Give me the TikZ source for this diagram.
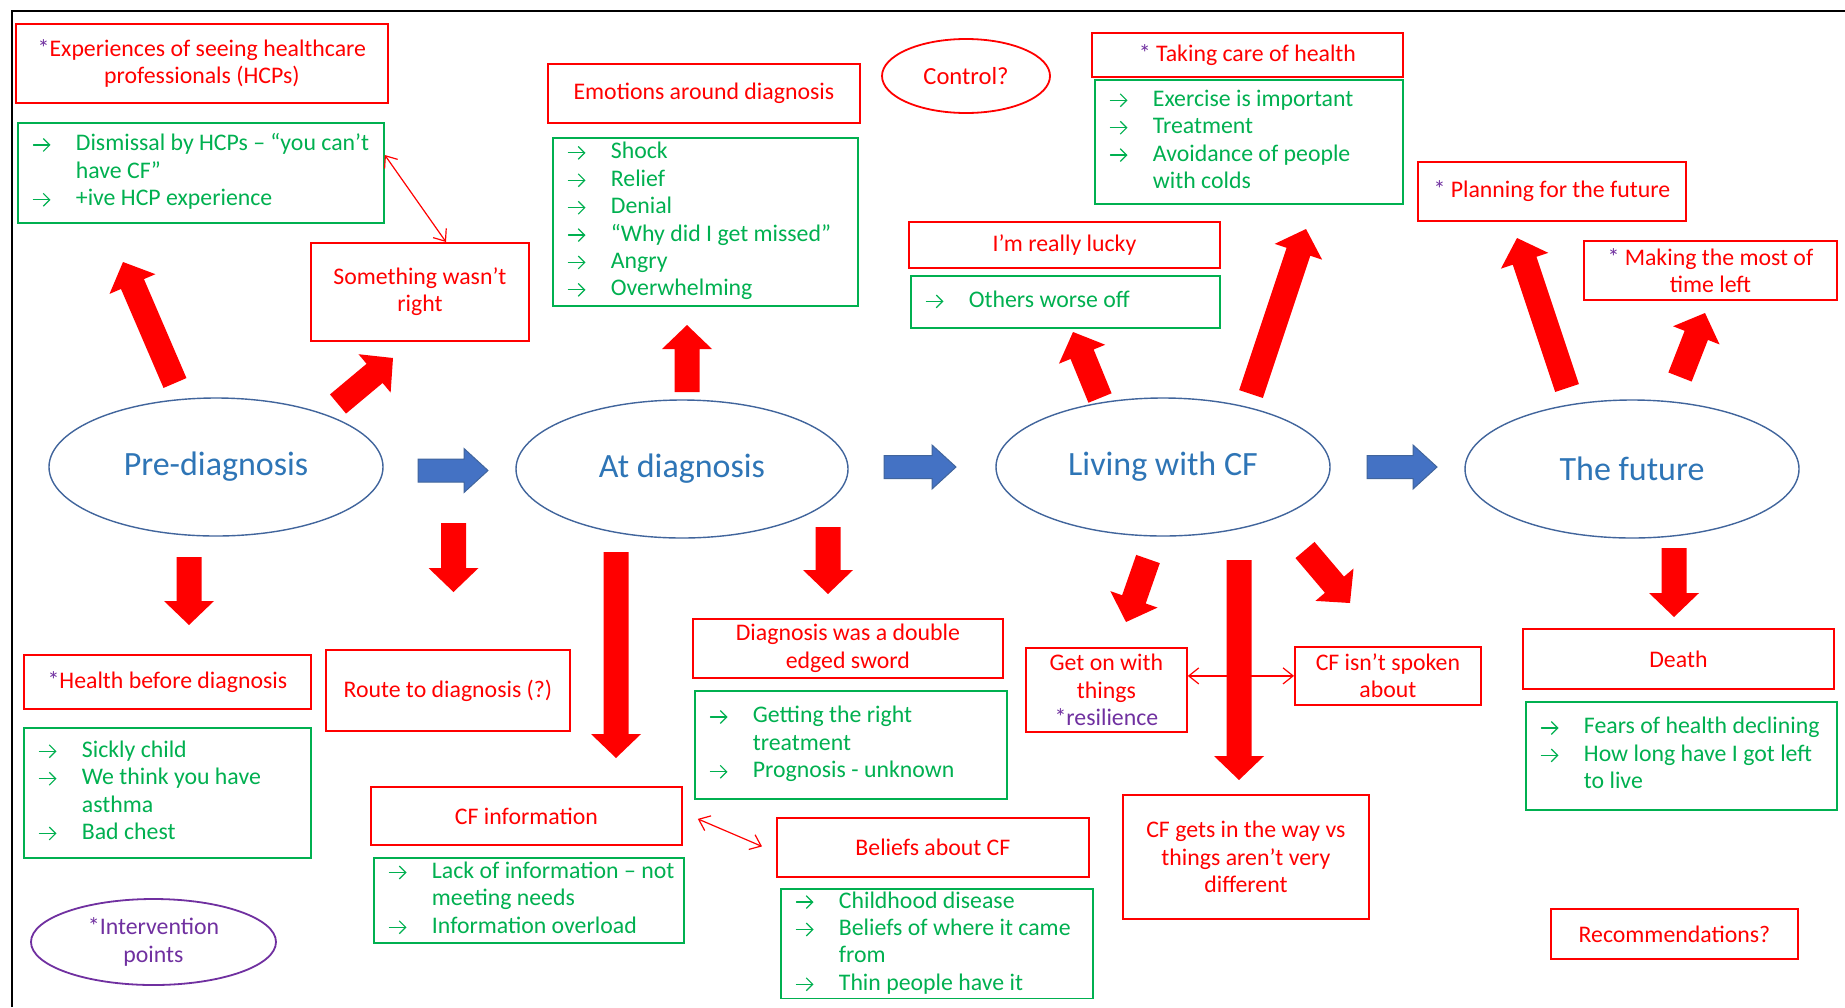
\documentclass[tikz,border=0pt]{standalone}
\usepackage{fontspec}
\setmainfont{Carlito}
\usetikzlibrary{shapes.geometric,calc,arrows.meta}
\definecolor{cred}{HTML}{FF0000}
\definecolor{cgreen}{HTML}{00B050}
\definecolor{cblue}{HTML}{2E75B6}
\definecolor{cedge}{HTML}{41659C}
\definecolor{cfill}{HTML}{4472C4}
\definecolor{cpurp}{HTML}{7030A0}
\newsavebox\garrbox
\AtBeginDocument{\sbox\garrbox{\begin{pgfpicture}\pgfsetbaseline{-3pt}%
  \pgfsetlinewidth{0.6pt}\pgfsetstrokecolor{cgreen}\pgfsetroundcap
  \pgfsetarrowsend{Straight Barb[length=3.2pt,width=6.4pt]}%
  \pgfpathmoveto{\pgfpoint{0pt}{0pt}}\pgfpathlineto{\pgfpoint{8.5pt}{0pt}}\pgfusepath{stroke}%
  \end{pgfpicture}}}
\newcommand\ga{\makebox[21.5pt][l]{\usebox\garrbox}}
\newcommand\st{{\color{cpurp}*}}
\newcommand\glist[2]{\makebox[#1][l]{\begin{tabular}{@{}l@{}l@{}}#2\end{tabular}}}
% block arrow: style, tail, tip, half shaft, half head, head length
\newcommand\barrow[6]{%
  \coordinate (bh) at ($(#3)!#6!(#2)$);
  \path[#1] ($(#2)!#4!90:(#3)$) -- ($(bh)!#4!-90:(#2)$) -- ($(bh)!#5!-90:(#2)$) -- (#3)
    -- ($(bh)!#5!90:(#2)$) -- ($(bh)!#4!90:(#2)$) -- ($(#2)!#4!-90:(#3)$) -- cycle;}
\tikzset{
  rbox/.style={draw=cred, line width=0.9pt, anchor=north west, inner sep=1pt, text=cred,
    align=center, font=\fontsize{11.9}{13.7}\selectfont},
  gbox/.style={draw=cgreen, line width=0.9pt, anchor=north west, inner xsep=7.5pt, inner ysep=0pt,
    text=cgreen, font=\fontsize{11.9}{13.7}\selectfont},
  stage/.style={ellipse, draw=cedge, line width=0.7pt, minimum width=167pt, minimum height=69pt,
    inner sep=0pt, text=cblue, font=\fontsize{17}{20}\selectfont},
  redarr/.style={fill=cred},
  bluearr/.style={fill=cfill, draw=cedge, line width=0.5pt, line join=miter},
  thinarr/.style={draw=cred, line width=0.6pt, {Straight Barb[length=5pt,width=8pt]}-{Straight Barb[length=5pt,width=8pt]}}
}
\begin{document}
\begin{tikzpicture}[x=0.5pt, y=-0.5pt]
\useasboundingbox (0,0) rectangle (1845,1007);
\fill[white] (0,0) rectangle (1845,1007);
\draw[black, line width=1pt] (11.5,1007) -- (11.5,10.7) -- (1845,10.7);

% stage ellipses
\node[stage] (pre) at (216,467) {Pre-diagnosis};
\node[stage, minimum width=166pt] (at) at (682,469) {At diagnosis};
\node[stage] (living) at (1163,467) {Living with CF};
\node[stage] (future) at (1632,469) {The future};

% other ellipses
\node[ellipse, draw=cred, line width=0.9pt, minimum width=84pt, minimum height=37pt, inner sep=0pt,
  text=cred, font=\fontsize{12.3}{13.7}\selectfont] (control) at (966,76) {Control?};
\node[ellipse, draw=cpurp, line width=0.9pt, minimum width=122.5pt, minimum height=43pt, inner sep=0pt,
  text=cpurp, align=center, font=\fontsize{11.9}{13.7}\selectfont] (interv) at (153.5,942) {*Intervention\\points};

% red boxes
\node[rbox, minimum width=186pt, minimum height=39.5pt] (r1) at (15,23) {\st Experiences of seeing healthcare\\professionals (HCPs)};
\node[rbox, minimum width=109pt, minimum height=49pt] (r2) at (310,242) {Something wasn’t\\right};
\node[rbox, minimum width=156pt, minimum height=29.5pt] (r3) at (547,63) {Emotions around diagnosis};
\node[rbox, minimum width=155.5pt, minimum height=23pt] (r4) at (908,221) {I’m really lucky};
\node[rbox, minimum width=155.5pt, minimum height=22pt] (r5) at (1091,32) {\st\ Taking care of health};
\node[rbox, minimum width=134pt, minimum height=29.5pt] (r6) at (1417,161) {\st\ Planning for the future};
\node[rbox, minimum width=126.5pt, minimum height=29.5pt] (r7) at (1583,240) {\st\ Making the most of\\time left};
\node[rbox, minimum width=143.5pt, minimum height=27pt] (r8) at (23,654) {\st Health before diagnosis};
\node[rbox, minimum width=122pt, minimum height=40.5pt] (r9) at (325,649) {Route to diagnosis (?)};
\node[rbox, minimum width=155.5pt, minimum height=29pt] (r10) at (370,786) {CF information};
\node[rbox, minimum width=155pt, minimum height=29.5pt] (r11) at (692,618) {Diagnosis was a double\\edged sword};
\node[rbox, minimum width=156pt, minimum height=29.5pt] (r12) at (776,817) {Beliefs about CF};
\node[rbox, minimum width=80.5pt, minimum height=42pt, inner sep=0.5pt] (r13) at (1025,647) {Get on with\\things\\{\color{cpurp}*resilience}};
\node[rbox, minimum width=93pt, minimum height=29pt] (r14) at (1294,646) {CF isn’t spoken\\about};
\node[rbox, minimum width=123pt, minimum height=62pt] (r15) at (1122,794) {CF gets in the way vs\\things aren’t very\\different};
\node[rbox, minimum width=155.5pt, minimum height=30pt] (r16) at (1522,628) {Death};
\node[rbox, minimum width=123.5pt, minimum height=25pt] (r17) at (1550,908) {Recommendations?};

% green boxes
\node[gbox, minimum height=50pt] (g1) at (17,122) {\glist{168pt}{\ga&Dismissal by HCPs – “you can’t\\&have CF”\\\ga&+ive HCP experience}};
\node[gbox, minimum height=84pt] (g2) at (552,137) {\glist{137.5pt}{\ga&Shock\\\ga&Relief\\\ga&Denial\\\ga&“Why did I get missed”\\\ga&Angry\\\ga&Overwhelming}};
\node[gbox, minimum height=26pt] (g3) at (910,275) {\glist{139.5pt}{\ga&Others worse off}};
\node[gbox, minimum height=62pt] (g4) at (1094,79) {\glist{139pt}{\ga&Exercise is important\\\ga&Treatment\\\ga&Avoidance of people\\&with colds}};
\node[gbox, minimum height=65pt] (g5) at (23,727) {\glist{128.5pt}{\ga&Sickly child\\\ga&We think you have\\&asthma\\\ga&Bad chest}};
\node[gbox, minimum height=42.5pt] (g6) at (373,857) {\glist{140pt}{\ga&Lack of information – not\\&meeting needs\\\ga&Information overload}};
\node[gbox, minimum height=54pt] (g7) at (694,690) {\glist{141pt}{\ga&Getting the right\\&treatment\\\ga&Prognosis - unknown}};
\node[gbox, minimum height=53.5pt] (g8) at (780,888) {\glist{141pt}{\ga&Childhood disease\\\ga&Beliefs of where it came\\&from\\\ga&Thin people have it}};
\node[gbox, minimum height=54pt] (g9) at (1525,701) {\glist{140.5pt}{\ga&Fears of health declining\\\ga&How long have I got left\\&to live}};

% thin double arrows
\draw[thinarr] ($(g1.north east)+(0,33)$) -- ($(r2.north west)+(136,0)$);
\draw[thinarr] ($(r10.east)+(15,3)$) -- ($(r12.west)+(-14,-1)$);
\draw[thinarr] (r13.east |- r14.west) -- (r14.west);

% arrow end coordinates
\coordinate (a1s) at (175,383);   \coordinate (a1e) at (123,262);
\coordinate (a2s) at (338,404);   \coordinate (a2e) at (393,358);
\coordinate (a3s) at (687,392);   \coordinate (a3e) at (687,325);
\coordinate (a4s) at (1100,398);  \coordinate (a4e) at (1073,332);
\coordinate (a5s) at (1251,394);  \coordinate (a5e) at (1306,229);
\coordinate (a6s) at (1567,388);  \coordinate (a6e) at (1517,238);
\coordinate (a7s) at (1680,377);  \coordinate (a7e) at (1705,313);
\coordinate (a8s) at (1148,559);  \coordinate (a8e) at (1126,622);
\coordinate (a9s) at (1305,550);  \coordinate (a9e) at (1350,603);
\coordinate (a10s) at (189,557);  \coordinate (a10e) at (189,625);
\coordinate (a11s) at (453.5,523); \coordinate (a11e) at (453.5,592);
\coordinate (a12s) at (616,552);  \coordinate (a12e) at (616,758);
\coordinate (a13s) at (828,527);  \coordinate (a13e) at (828,594);
\coordinate (a14s) at (1239,560); \coordinate (a14e) at (1239,780);
\coordinate (a15s) at (1674,548); \coordinate (a15e) at (1674,617);
\coordinate (b1s) at (418,470.5); \coordinate (b1e) at (488,470.5);
\coordinate (b2s) at (884,467);   \coordinate (b2e) at (956,467);
\coordinate (b3s) at (1367,467);  \coordinate (b3e) at (1437,467);

% red block arrows
\foreach \n in {1,...,15}{\barrow{redarr}{a\n s}{a\n e}{6.25pt}{12.5pt}{12pt}}
% blue block arrows
\foreach \n in {1,2,3}{\barrow{bluearr}{b\n s}{b\n e}{5.75pt}{11pt}{12pt}}
\end{tikzpicture}
\end{document}
